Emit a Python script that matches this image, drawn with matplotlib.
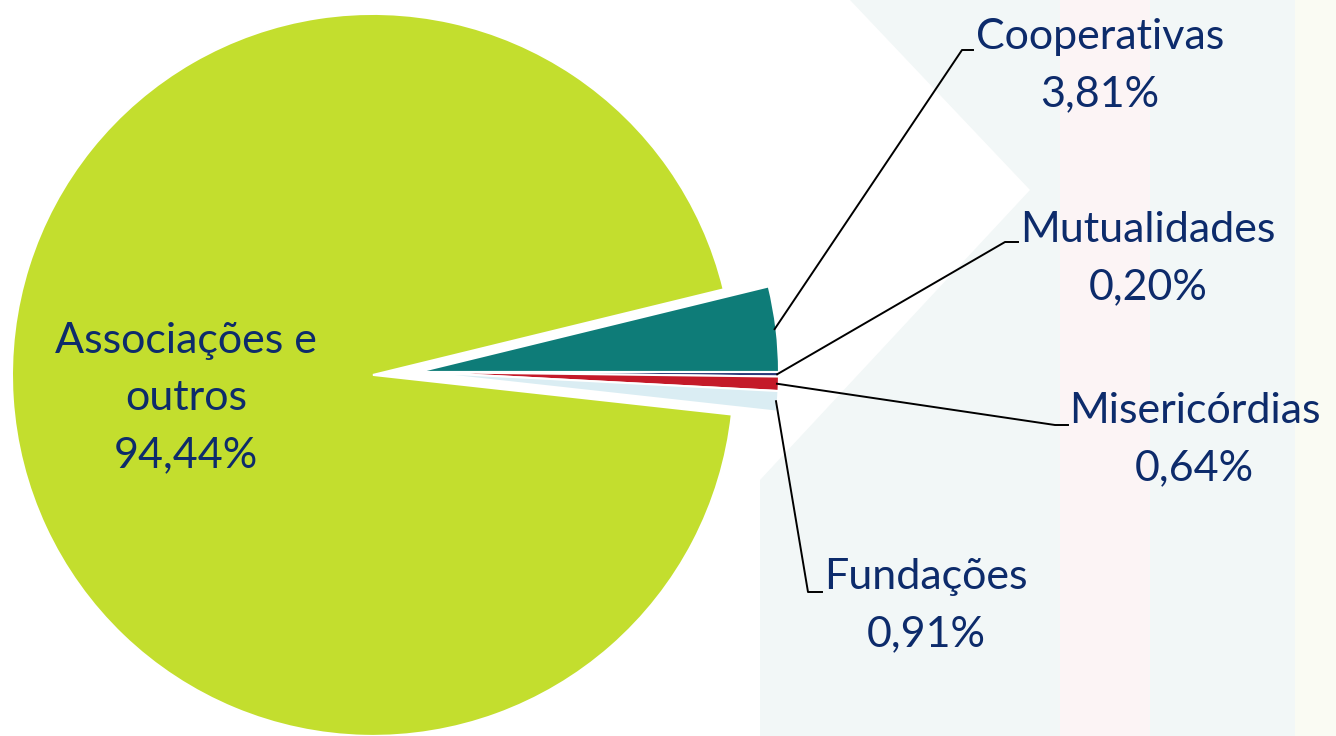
import matplotlib.pyplot as plt
import numpy as np
from matplotlib.patches import Polygon

# ---------------- DATA ----------------
CATEGORIES = ["Cooperativas", "Mutualidades", "Misericórdias", "Fundações", "Associações e\noutros"]
SHARES = [3.81, 0.20, 0.64, 0.91, 94.44]
LABELS = ["3,81%", "0,20%", "0,64%", "0,91%", "94,44%"]
COLORS = ["#0E7C78", "#2B3A7A", "#C41A29", "#DAEDF3", "#C3DE2E"]

# ---------------- LAYOUT (pixels of the 1336x736 canvas) ----------------
W, H = 1336, 736
CENTER_PX = (418, 372)
RADIUS_PX = 361
TEXT_COLOR = "#0D2B6B"
FONT = ["Lato", "DejaVu Sans"]
FONT_SIZE = 31
LINE_SPACING = 1.62

# elbow point, end of horizontal tick, text left x, text block centre y
LEADERS = {
    "Cooperativas": ((962, 50), 973, 976, 66),
    "Mutualidades": ((1005, 242), 1018, 1020, 259),
    "Misericórdias": ((1055, 425), 1068, 1069, 440),
    "Fundações": ((808, 592), 822, 824, 606),
}


def px(x, y):
    """Canvas pixel -> data coordinates (pie radius = 1)."""
    return (x - CENTER_PX[0]) / RADIUS_PX, (CENTER_PX[1] - y) / RADIUS_PX


fig = plt.figure(figsize=(W / 100, H / 100), dpi=100)
ax = fig.add_axes([0, 0, 1, 1])
x0, y1 = px(0, 0)
x1, y0 = px(W, H)

# faint decorative background on the right
bg = [
    ([(850, 0), (1336, 0), (1336, 736), (760, 736), (760, 480), (1030, 190)], "#F2F7F7"),
    ([(1060, 0), (1150, 0), (1150, 736), (1060, 736)], "#FCF4F5"),
    ([(1295, 0), (1336, 0), (1336, 736), (1295, 736)], "#FAFBF3"),
]
for pts, col in bg:
    ax.add_patch(Polygon([px(*p) for p in pts], closed=True, color=col, lw=0, zorder=0))

start = SHARES[0] * 3.6
explode = [0, 0, 0, 0, 0.125]
wedges, _ = ax.pie(
    SHARES,
    colors=COLORS,
    startangle=start,
    counterclock=False,
    explode=explode,
    radius=1,
    center=(0, 0),
    wedgeprops=dict(edgecolor="white", linewidth=1.5),
    frame=True,
)
ax.set_aspect("auto")
ax.set_xlim(x0, x1)
ax.set_ylim(y0, y1)
ax.axis("off")

for w, cat, lab in zip(wedges, CATEGORIES, LABELS):
    if cat not in LEADERS:
        continue
    mid = np.deg2rad((w.theta1 + w.theta2) / 2)
    sx, sy = np.cos(mid) * 0.995, np.sin(mid) * 0.995
    (ex, ey), hx, tx, ty = LEADERS[cat]
    exd, eyd = px(ex, ey)
    hxd, _ = px(hx, ey)
    ax.plot([sx, exd, hxd], [sy, eyd, eyd], color="black", lw=1.4, zorder=5)
    txd, tyd = px(tx, ty)
    ax.text(txd, tyd, f"{cat}\n{lab}", ha="left", va="center", multialignment="center",
            fontsize=FONT_SIZE, color=TEXT_COLOR, family=FONT, linespacing=LINE_SPACING)

gx, gy = px(186, 398)
ax.text(gx, gy, f"{CATEGORIES[-1]}\n{LABELS[-1]}", ha="center", va="center",
        multialignment="center", fontsize=FONT_SIZE, color=TEXT_COLOR, family=FONT,
        linespacing=LINE_SPACING)

fig.savefig("out.png", dpi=100, facecolor="white")
